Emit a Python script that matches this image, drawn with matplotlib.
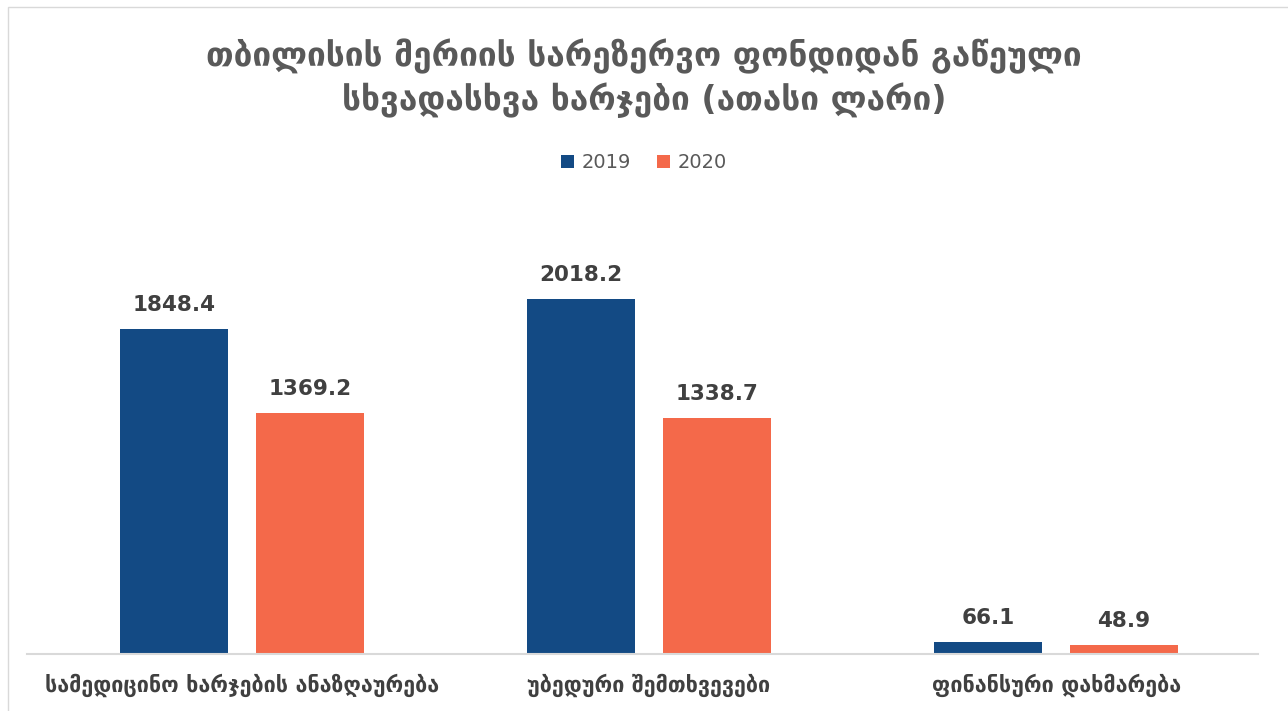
import matplotlib.pyplot as plt
import numpy as np
from matplotlib.patches import Rectangle

plt.rcParams['font.family'] = ['DejaVu Sans']

# data
categories = ['სამედიცინო ხარჯების ანაზღაურება', 'უბედური შემთხვევები', 'ფინანსური დახმარება']
values_2019 = [1848.4, 2018.2, 66.1]
values_2020 = [1369.2, 1338.7, 48.9]
series_names = ['2019', '2020']
title = 'თბილისის მერიის სარეზერვო ფონდიდან გაწეული\nსხვადასხვა ხარჯები (ათასი ლარი)'

blue = '#134A84'
orange = '#F4694A'
label_col = '#404040'

fig = plt.figure(figsize=(12.88, 7.11), dpi=100)
ax = fig.add_axes([0.021, 0.0802, 0.9557, 0.619])

x = np.arange(len(categories))
w = 0.265
off = 0.167
b1 = ax.bar(x - off, values_2019, w, color=blue, label=series_names[0])
b2 = ax.bar(x + off, values_2020, w, color=orange, label=series_names[1])

for bars in (b1, b2):
    for b in bars:
        ax.annotate(f'{b.get_height():.1f}', (b.get_x() + b.get_width() / 2, b.get_height()),
                    xytext=(0, 10), textcoords='offset points', ha='center', va='bottom',
                    fontsize=15.5, fontweight='bold', color=label_col)

ax.set_xlim(-0.528, 2.496)
ax.set_ylim(0, 2500)
ax.set_yticks([])
ax.set_xticks(x)
ax.set_xticklabels(categories, fontsize=15.5, fontweight='bold', color=label_col)
ax.tick_params(axis='x', length=0, pad=14)
for s in ['top', 'right', 'left']:
    ax.spines[s].set_visible(False)
ax.spines['bottom'].set_color('#D9D9D9')
ax.spines['bottom'].set_linewidth(1.5)

fig.text(0.5, 0.8896, title, ha='center', va='center', fontsize=24, fontweight='bold',
         color='#595959', linespacing=1.3)

fig.legend(handles=[b1, b2], labels=series_names, loc='center', bbox_to_anchor=(0.5, 0.771),
           ncol=2, frameon=False, fontsize=14, handlelength=0.7, handleheight=0.7,
           handletextpad=0.4, columnspacing=1.3, labelcolor='#595959')

# thin frame around the chart area
fig.patches.append(Rectangle((0.006, -0.01), 1.0, 1.0, transform=fig.transFigure,
                             fill=False, edgecolor='#D9D9D9', linewidth=1))

fig.savefig('out.png', dpi=100)
